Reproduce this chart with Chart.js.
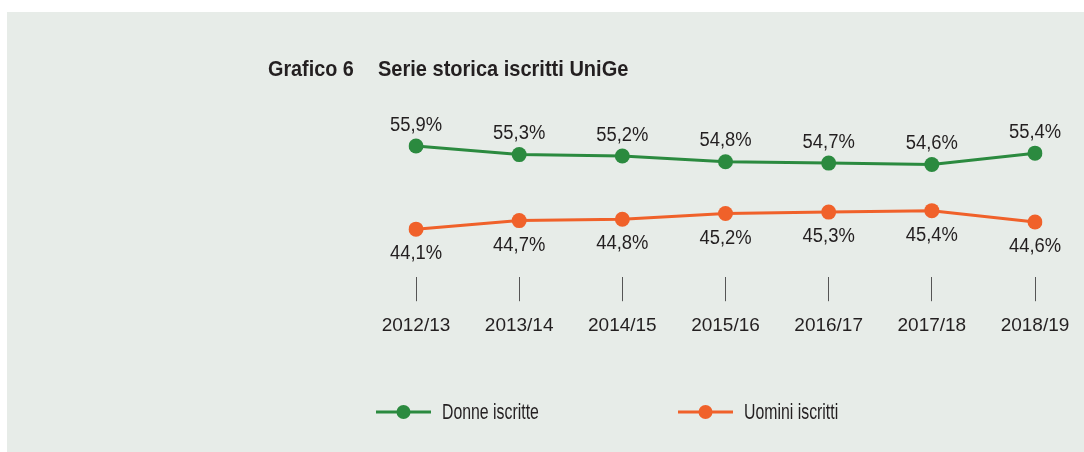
<!DOCTYPE html>
<html><head><meta charset="utf-8">
<script src="https://cdn.jsdelivr.net/npm/chart.js@4.4.1/dist/chart.umd.min.js"></script>
<style>
html,body{margin:0;padding:0;background:#ffffff;width:1084px;height:452px;overflow:hidden}
#panel{position:absolute;left:7px;top:12px;right:0;bottom:0;background:#e7ece8}
#wrap{position:absolute;left:0;top:0;width:1084px;height:452px}
canvas{display:block}
</style></head><body>
<div id="panel"></div>
<div id="wrap"><canvas id="c" width="1084" height="452"></canvas></div>
<script>
// ---- data ----
const categories = ['2012/13', '2013/14', '2014/15', '2015/16', '2016/17', '2017/18', '2018/19'];
const donneIscritte = [55.9, 55.3, 55.2, 54.8, 54.7, 54.6, 55.4];
const uominiIscritti = [44.1, 44.7, 44.8, 45.2, 45.3, 45.4, 44.6];
const seriesNames = ['Donne iscritte', 'Uomini iscritti'];
const titleNumber = 'Grafico 6';
const titleText = 'Serie storica iscritti UniGe';

// ---- style ----
const GREEN = '#2b8a3f';
const ORANGE = '#f0612a';
const TEXT = '#231f20';
const FONT = '"Liberation Sans", Arial, sans-serif';

function fmt(v) { return v.toFixed(1).replace('.', ',') + '%'; }

// draw text horizontally condensed by factor sx around anchor (x,y)
function condensedText(ctx, str, x, y, sx, align) {
  ctx.save();
  ctx.translate(x, y);
  ctx.scale(sx, 1);
  ctx.textAlign = align;
  ctx.fillText(str, 0, 0);
  ctx.restore();
}

const dataLabelPlugin = {
  id: 'dataLabels',
  afterDatasetsDraw(chart) {
    const ctx = chart.ctx;
    ctx.save();
    ctx.font = '20px ' + FONT;
    ctx.fillStyle = TEXT;
    ctx.textBaseline = 'middle';
    chart.data.datasets.forEach((ds, i) => {
      const meta = chart.getDatasetMeta(i);
      meta.data.forEach((pt, j) => {
        condensedText(ctx, fmt(ds.data[j]), pt.x, pt.y + ds.labelOffset, 0.92, 'center');
      });
    });
    ctx.restore();
  }
};

const titleLegendPlugin = {
  id: 'titleLegend',
  afterDraw(chart) {
    const ctx = chart.ctx;
    ctx.save();
    // title
    ctx.fillStyle = TEXT;
    ctx.textBaseline = 'middle';
    ctx.font = 'bold 22px ' + FONT;
    condensedText(ctx, titleNumber, 268, 70, 0.9, 'left');
    condensedText(ctx, titleText, 378, 70, 0.91, 'left');
    // legend
    const items = [{x: 376}, {x: 678}];
    ctx.font = '22px ' + FONT;
    chart.data.datasets.forEach((ds, i) => {
      const x0 = items[i].x, y = 412;
      ctx.strokeStyle = ds.borderColor;
      ctx.lineWidth = 3;
      ctx.beginPath();
      ctx.moveTo(x0, y);
      ctx.lineTo(x0 + 55, y);
      ctx.stroke();
      ctx.fillStyle = ds.backgroundColor;
      ctx.beginPath();
      ctx.arc(x0 + 27.5, y, 7, 0, Math.PI * 2);
      ctx.fill();
      ctx.fillStyle = TEXT;
      condensedText(ctx, ds.label, x0 + 66, y + 1, 0.72, 'left');
    });
    ctx.restore();
  }
};

new Chart(document.getElementById('c'), {
  type: 'line',
  data: {
    labels: categories,
    datasets: [
      {
        label: seriesNames[0], data: donneIscritte, yAxisID: 'yD',
        borderColor: GREEN, backgroundColor: GREEN, borderWidth: 3,
        pointRadius: 7.5, pointHoverRadius: 7.5, pointBorderWidth: 0,
        tension: 0, labelOffset: -21
      },
      {
        label: seriesNames[1], data: uominiIscritti, yAxisID: 'yU',
        borderColor: ORANGE, backgroundColor: ORANGE, borderWidth: 3,
        pointRadius: 7.5, pointHoverRadius: 7.5, pointBorderWidth: 0,
        tension: 0, labelOffset: 24.5
      }
    ]
  },
  options: {
    responsive: false,
    animation: false,
    events: [],
    devicePixelRatio: 1,
    layout: { padding: { left: 416, right: 49, top: 100, bottom: 102 } },
    plugins: { legend: { display: false }, title: { display: false }, tooltip: { enabled: false } },
    scales: {
      x: {
        type: 'category',
        offset: false,
        border: { display: false },
        grid: { display: true, drawOnChartArea: false, drawTicks: true, tickLength: 24, tickColor: '#555555', tickWidth: 1 },
        ticks: { color: TEXT, font: { family: FONT, size: 19 }, padding: 13, maxRotation: 0, autoSkip: false }
      },
      yD: { display: false, min: 46.674, max: 59.139 },
      yU: { display: false, min: 40.72, max: 53.185 }
    }
  },
  plugins: [dataLabelPlugin, titleLegendPlugin]
});
</script>
</body></html>
